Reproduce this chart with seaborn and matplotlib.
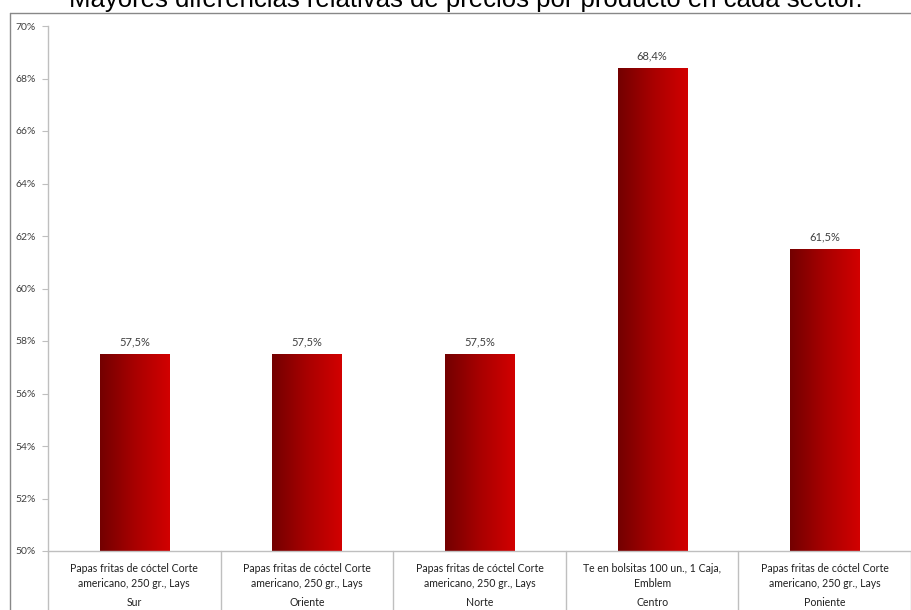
import numpy as np
import pandas as pd
import matplotlib
matplotlib.use("Agg")
import matplotlib.pyplot as plt
import matplotlib.transforms as mtransforms
from matplotlib.colors import LinearSegmentedColormap
import seaborn as sns

sectors = ["Sur", "Oriente", "Norte", "Centro", "Poniente"]
products = [
    "Papas fritas de cóctel Corte\namericano, 250 gr., Lays",
    "Papas fritas de cóctel Corte\namericano, 250 gr., Lays",
    "Papas fritas de cóctel Corte\namericano, 250 gr., Lays",
    "Te en bolsitas 100 un., 1 Caja,\nEmblem",
    "Papas fritas de cóctel Corte\namericano, 250 gr., Lays",
]
values = [57.5, 57.5, 57.5, 68.4, 61.5]
yticks = [50, 52, 54, 56, 58, 60, 62, 64, 66, 68, 70]
title = "Mayores diferencias relativas de precios por producto en cada sector."

sns.set_theme(style="white")
plt.rcParams["font.family"] = ["Lato", "DejaVu Sans"]

df = pd.DataFrame({"sector": sectors, "value": values})

fig = plt.figure(figsize=(9.12, 6.10), dpi=100)
ax = fig.add_axes([48/912, 1-551/610, (911-48)/912, (551-26)/610])

sns.barplot(data=df, x="sector", y="value", width=0.4, color="#b00000",
            ax=ax, saturation=1, edgecolor="none")

ymin, ymax = 50, 70
ax.set_ylim(ymin, ymax)
ax.set_xlim(-0.5, 4.5)

# gradient fill for bars
cmap = LinearSegmentedColormap.from_list("g", ["#730000", "#a80000", "#d20000"])
grad = np.linspace(0, 1, 256).reshape(1, -1)
for p in ax.patches:
    x0, y0 = p.get_x(), p.get_y()
    w, h = p.get_width(), p.get_height()
    im = ax.imshow(grad, cmap=cmap, aspect="auto",
                   extent=[x0, x0 + w, max(y0, ymin), y0 + h],
                   zorder=p.get_zorder() + 0.1)
    im.set_clip_path(p)
ax.set_xlim(-0.5, 4.5)
ax.set_ylim(ymin, ymax)

# value labels
for c in ax.containers:
    ax.bar_label(c, labels=[f"{v:.1f}%".replace(".", ",") for v in values],
                 padding=5, fontsize=8, color="#404040")

ax.set_yticks(yticks)
ax.set_yticklabels([f"{t}%" for t in yticks], fontsize=7.5, color="#404040")
ax.tick_params(axis="y", length=4, width=0.8, color="#bfbfbf", pad=5, left=True)

ax.set_xticks(range(len(sectors)))
ax.set_xticklabels(products, fontsize=7.6, color="#202020", linespacing=1.35)
ax.tick_params(axis="x", length=0, pad=9)
ax.set_xlabel("")
ax.set_ylabel("")

for s in ["top", "right"]:
    ax.spines[s].set_visible(False)
for s in ["left", "bottom"]:
    ax.spines[s].set_color("#bfbfbf")
    ax.spines[s].set_linewidth(1)

trans = mtransforms.blended_transform_factory(ax.transData, ax.transAxes)
ext = -60/525
for i in range(len(sectors) + 1):
    ax.plot([i - 0.5, i - 0.5], [0, ext], transform=trans, color="#bfbfbf",
            lw=1, clip_on=False)
for i, s in enumerate(sectors):
    ax.text(i, -51/525, s, transform=trans, ha="center", va="center",
            fontsize=7.6, color="#202020")

# outer border
fig.add_artist(plt.Line2D([10/912, 1.0], [1-12.5/610, 1-12.5/610],
                          transform=fig.transFigure, color="#888888", lw=1))
fig.add_artist(plt.Line2D([10/912, 10/912], [0, 1-12.5/610],
                          transform=fig.transFigure, color="#888888", lw=1))

fig.text(466/912, 1-7.3/610, title, ha="center", va="baseline",
         fontsize=18.5, family=["Liberation Sans", "DejaVu Sans"], color="black")

fig.savefig("out.png", dpi=100)
